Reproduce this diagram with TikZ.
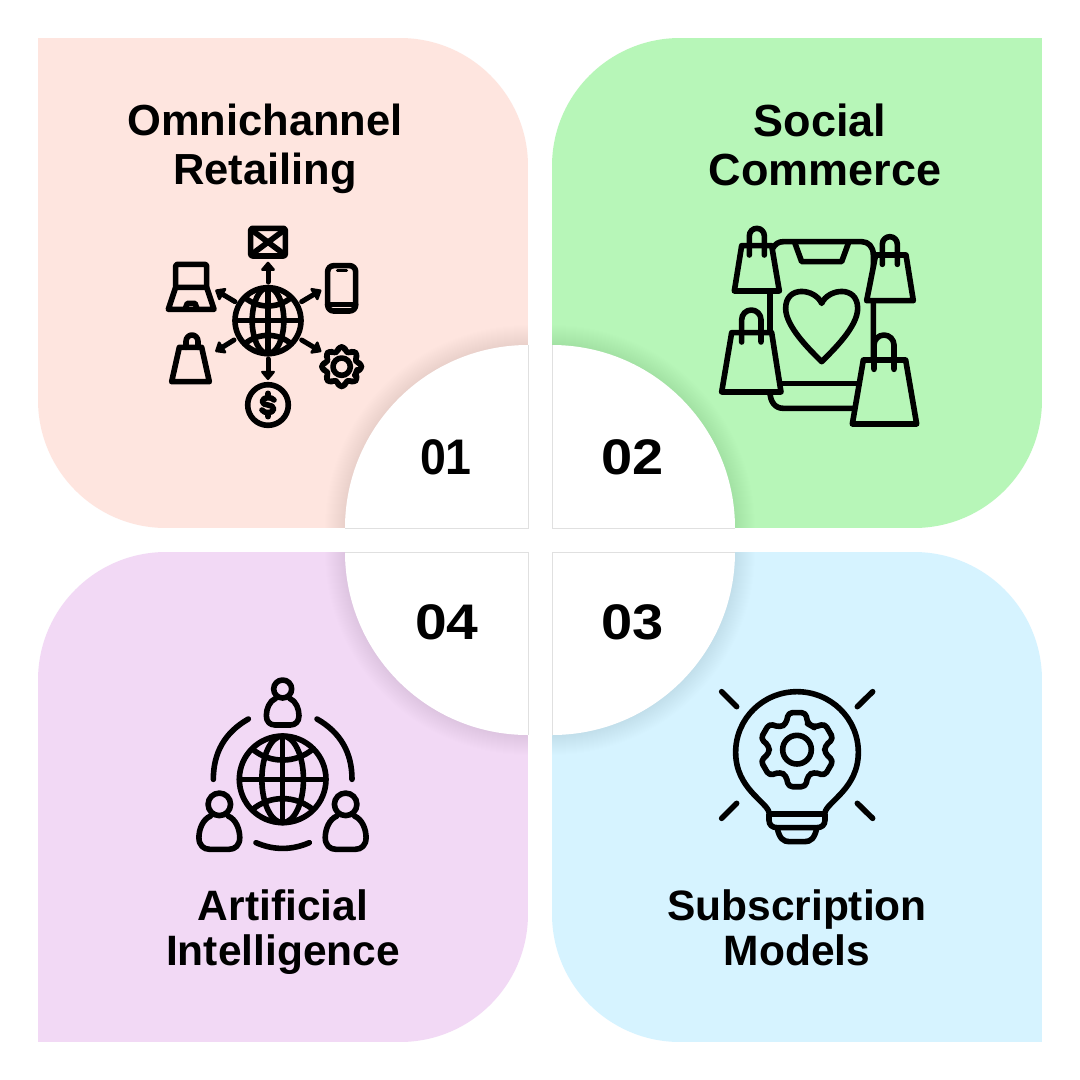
\documentclass[tikz,border=0pt]{standalone}
\usepackage{fontspec}
\setmainfont{Liberation Sans}
\usetikzlibrary{arrows.meta}
\definecolor{cTL}{HTML}{FEE5DF}
\definecolor{cTR}{HTML}{B7F6B8}
\definecolor{cBL}{HTML}{F2D9F5}
\definecolor{cBR}{HTML}{D6F3FF}
\tikzset{
  headline/.style={anchor=base,inner sep=0pt,font=\bfseries\fontsize{#1}{#1}\selectfont},
  numeral/.style={anchor=base,inner sep=0pt,xscale=#1,font=\bfseries\fontsize{50}{50}\selectfont},
  ink/.style={draw=black,line width=#1,line cap=round,line join=round},
  ink/.default=5.6pt,
  bagfill/.style={ink,fill=#1},
  zoomed/.style={x=0.33333pt,y=-0.33333pt}
}
\newcommand{\quadpanel}[5]{% cx cy xs colour cornersign
  \begin{scope}[shift={(#1,#2)},xscale=#3]
    \begin{scope}
      \clip (-245,-245) -- (117,-245) .. controls (187.7,-245) and (245,-187.7) .. (245,-117) -- (245,245) -- (-117,245) .. controls (-187.7,245) and (-245,187.7) .. (-245,117) -- cycle;
      \fill[#4] (-245,-245) rectangle (245,245);
      \foreach \i in {1,...,20}{\fill[black,opacity=.0045] ({#5*245},{#5*245}) circle ({183+\i});}
      \fill[white] ({#5*245},{#5*245}) circle (183);
    \end{scope}
    \draw[black!12,line width=.7pt] ({#5*62},{#5*245}) -- ({#5*245},{#5*245}) -- ({#5*245},{#5*62});
  \end{scope}}
\newcommand{\globeicon}[4]{% cx cy r lw
  \begin{scope}[shift={(#1,#2)}]
    \def\R{#3}
    \draw[ink=#4] (0,0) circle (\R);
    \draw[ink=#4] (0,0) ellipse ({.48*\R} and \R);
    \draw[ink=#4] (0,-\R) -- (0,\R) (-\R,0) -- (\R,0);
    \draw[ink=#4] ({-.7*\R},{-.7*\R}) .. controls ({-.3*\R},{-.36*\R}) and ({.3*\R},{-.36*\R}) .. ({.7*\R},{-.7*\R});
    \draw[ink=#4] ({-.7*\R},{.7*\R}) .. controls ({-.3*\R},{.36*\R}) and ({.3*\R},{.36*\R}) .. ({.7*\R},{.7*\R});
  \end{scope}}
\newcommand{\bagicon}[9]{% x1 x2 x3 x4 ytop ybot  hl hr  peak
  \draw[bagfill=\bagcolor] (#1,#5) -- (#2,#5) -- (#3,#6) -- (#4,#6) -- cycle;
  \pgfmathsetmacro{\hm}{(#7+#8)/2}\pgfmathsetmacro{\hr}{(#8-#7)/2}
  \draw[ink] (#7,{#5+28}) -- (#7,{#9+\hr}) .. controls (#7,{#9+.45*\hr}) and ({\hm-.55*\hr},#9) .. (\hm,#9) .. controls ({\hm+.55*\hr},#9) and (#8,{#9+.45*\hr}) .. (#8,{#9+\hr}) -- (#8,{#5+28});}
\newcommand{\personicon}[3]{% cx headcy scale
  \begin{scope}[shift={(#1,#2)},scale=#3]
    \draw[ink] (0,0) circle (27);
    \draw[ink] (-21,28) .. controls (-40,36) and (-49,60) .. (-49,80) .. controls (-49,98) and (-38,108) .. (-23,108) -- (23,108) .. controls (38,108) and (49,98) .. (49,80) .. controls (49,60) and (40,36) .. (21,28);
  \end{scope}}
\newcommand{\gearicon}[9]{% cx cy step Rout Rin halftop halfbase corner rotation
  \begin{scope}[shift={(#1,#2)},rotate=#9]
    \pgfmathsetmacro{\gsec}{2*#3}
    \draw[ink,rounded corners=#8] ({#3/2}:#5) \foreach \a in {#3,\gsec,...,360}{ -- ({\a-#7}:#5) -- ({\a-#6}:#4) -- ({\a+#6}:#4) -- ({\a+#7}:#5)} -- cycle;
  \end{scope}}
\begin{document}
\begin{tikzpicture}[x=1pt,y=-1pt]
\useasboundingbox (0,0) rectangle (1080,1080);
\fill[white] (0,0) rectangle (1080,1080);
\quadpanel{283}{283}{1}{cTL}{1}
\quadpanel{797}{283}{-1}{cTR}{1}
\quadpanel{283}{797}{-1}{cBL}{-1}
\quadpanel{797}{797}{1}{cBR}{-1}

\node[headline=43.5] (t1a) at (265,135) {Omnichannel};
\node[headline=43.5] (t1b) at (265,184) {Retailing};
\node[headline=45] (t2a) at (820,136) {Social};
\node[headline=45] (t2b) at (825,185) {Commerce};
\node[headline=42.5] (t4a) at (283,920) {Artificial};
\node[headline=42.5] (t4b) at (283,965) {Intelligence};
\node[headline=42.5] (t3a) at (797,920) {Subscription};
\node[headline=42.5] (t3b) at (797,965) {Models};
\node[numeral=.93] (n1) at (446,474) {01};
\node[numeral=1.12] (n2) at (633,474) {02};
\node[numeral=1.14] (n4) at (447,639) {04};
\node[numeral=1.12] (n3) at (633,639) {03};

% Omnichannel icon
\begin{scope}[shift={(150,210)},zoomed]
  \globeicon{354}{332}{99}{5.6pt}
  \foreach \sx/\sy/\ex/\ey in {354/216/354/155, 455/275/514/240, 455/390/514/425, 354/447/354/510, 252/390/196/425, 255/275/196/240}
    \draw[line width=5pt,line cap=round,-{Triangle[length=10pt,width=16pt,round]}] (\sx,\sy) -- (\ex,\ey);
  \draw[ink,rounded corners=2pt] (302,55) rectangle (406,138);
  \draw[ink] (305,60) -- (403,133) (403,60) -- (305,133);
  \draw[ink,rounded corners=2pt] (77,228) -- (77,163) -- (170,163) -- (170,228);
  \draw[ink] (77,232) -- (170,232) -- (192,298) -- (55,298) -- cycle;
  \draw[ink] (105,298) -- (112,280) -- (135,280) -- (142,298);
  \draw[ink,rounded corners=6pt] (533,167) rectangle (617,303);
  \draw[ink] (533,284) -- (617,284);
  \draw[line width=3pt,line cap=round] (562,180) -- (590,180);
  \draw[ink] (88,412) -- (155,412) -- (178,515) -- (65,515) -- cycle;
  \draw[ink] (108,412) -- (108,394) .. controls (108,384) and (116,375) .. (126,375) .. controls (136,375) and (144,384) .. (144,394) -- (144,412);
  \gearicon{575}{470}{45}{60}{47}{8}{14}{3pt}{0}
  \draw[ink] (575,470) circle (26);
  \draw[ink] (354,585) circle (61);
  \draw[ink] (354,550) -- (354,562) (354,608) -- (354,620);
  \draw[ink] (372,570) .. controls (366,560) and (338,560) .. (337,574) .. controls (336,590) and (372,580) .. (371,597) .. controls (370,611) and (342,611) .. (336,600);
\end{scope}

% Social commerce icon
\begin{scope}[shift={(700,210)},zoomed]
  \draw[ink] (218,115) .. controls (226,102) and (235,95) .. (250,95) -- (485,95) .. controls (505,95) and (520,110) .. (520,135) -- (520,450);
  \draw[ink] (210,240) -- (210,365);
  \draw[ink] (210,545) .. controls (210,575) and (225,595) .. (250,595) -- (470,595);
  \draw[ink] (240,520) -- (475,520);
  \draw[ink] (285,100) -- (305,155) -- (425,155) -- (445,100);
  \draw[ink] (365,280) .. controls (345,235) and (257,225) .. (257,295) .. controls (257,350) and (330,420) .. (365,455) .. controls (400,420) and (473,350) .. (473,295) .. controls (473,225) and (385,235) .. (365,280) -- cycle;
  \def\bagcolor{cTR}
  \bagicon{125}{215}{238}{103}{107}{243}{148}{193}{55}
  \bagicon{527}{618}{640}{500}{135}{272}{547}{592}{80}
  \bagicon{95}{215}{243}{65}{368}{546}{125}{183}{300}
  \bagicon{490}{617}{650}{457}{450}{642}{522}{582}{375}
\end{scope}

% Artificial intelligence icon
\begin{scope}[shift={(180,670)},zoomed]
  \globeicon{308}{328}{130}{5.6pt}
  \personicon{308}{57}{1}
  \personicon{118}{403}{1.25}
  \personicon{497}{403}{1.25}
  \draw[ink] (100,328) .. controls (100,247) and (135,187) .. (205,147);
  \draw[ink] (516,328) .. controls (516,247) and (481,187) .. (411,147);
  \draw[ink] (228,518) .. controls (281,541) and (335,541) .. (388,518);
\end{scope}

% Subscription icon
\begin{scope}[shift={(700,675)},zoomed]
  \draw[ink] (207,412) .. controls (200,380) and (107,340) .. (107,232) .. controls (107,130) and (190,50) .. (291,50) .. controls (392,50) and (475,130) .. (475,232) .. controls (475,340) and (382,380) .. (375,412);
  \draw[ink] (207,417) -- (375,417) -- (375,435) .. controls (375,450) and (365,458) .. (350,458) -- (232,458) .. controls (217,458) and (207,450) .. (207,435) -- cycle;
  \draw[ink] (232,460) .. controls (238,490) and (250,500) .. (268,500) -- (314,500) .. controls (332,500) and (344,490) .. (350,460);
  \draw[ink] (65,50) -- (110,95) (518,50) -- (472,95) (65,430) -- (110,385) (518,430) -- (472,385);
  \gearicon{291}{224}{60}{114}{84}{13}{23}{4pt}{90}
  \draw[ink] (291,224) circle (43);
\end{scope}
\end{tikzpicture}
\end{document}
